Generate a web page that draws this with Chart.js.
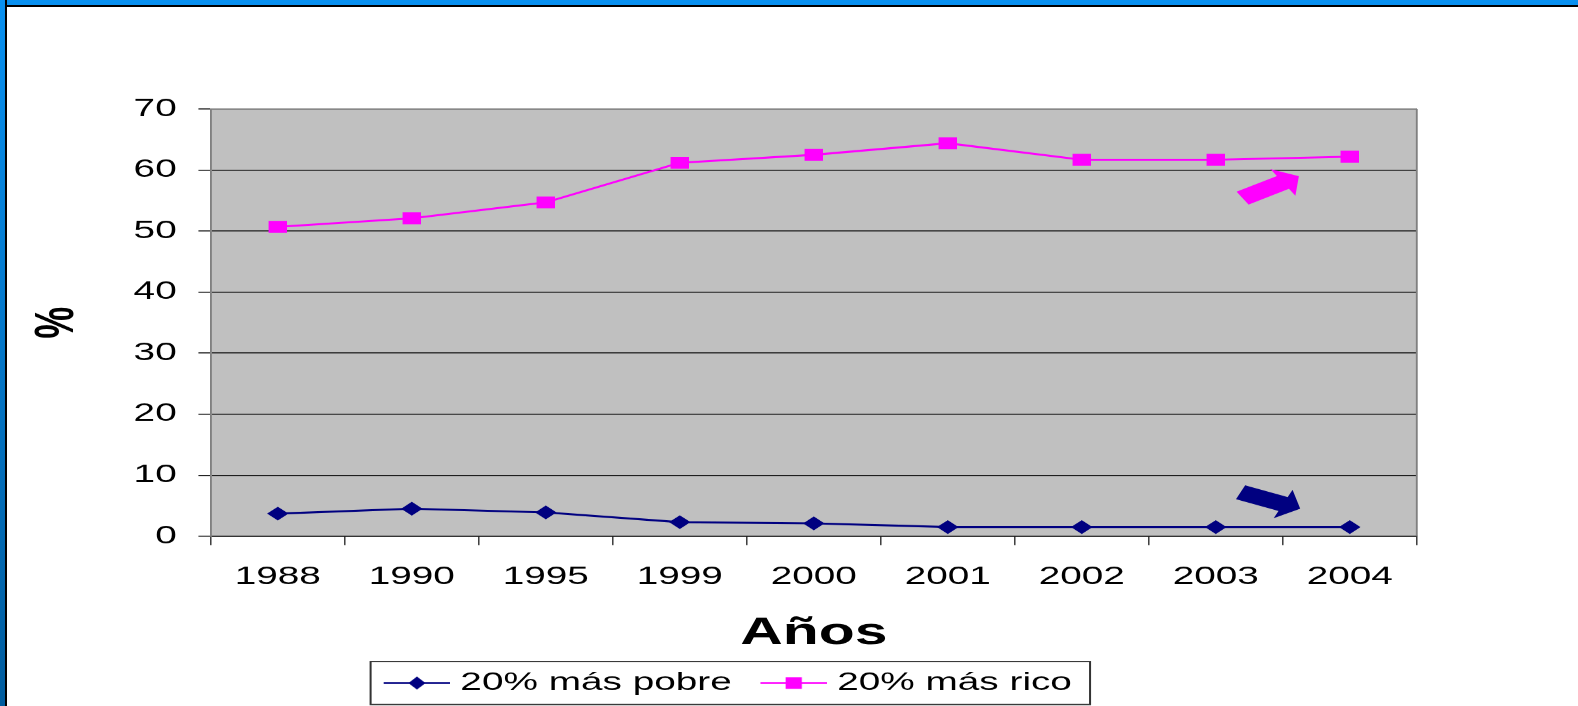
<!DOCTYPE html>
<html>
<head>
<meta charset="utf-8">
<script src="https://cdn.jsdelivr.net/npm/chart.js@4.4.1/dist/chart.umd.min.js"></script>
<style>
  html, body { margin:0; padding:0; background:#ffffff; width:1578px; height:706px; overflow:hidden; }
  #wrap { position:absolute; left:0; top:0; width:1018px; height:706px; transform-origin:0 0; }
  #frameTop { position:absolute; left:0; top:0; width:1578px; height:5px; background:#0890f0; border-bottom:2px solid #000; z-index:5; }
  #frameLeft { position:absolute; left:0; top:0; width:5px; height:706px; background:linear-gradient(#0890f0, #005c9e); border-right:2px solid #000; z-index:5; }
</style>
</head>
<body>
<div id="wrap"><canvas id="c" width="1018" height="706"></canvas></div>
<div id="frameTop"></div>
<div id="frameLeft"></div>
<script>
// ---- data ----
const categories = ['1988','1990','1995','1999','2000','2001','2002','2003','2004'];
const poorest20 = [3.7, 4.5, 3.9, 2.3, 2.1, 1.5, 1.5, 1.5, 1.5];
const richest20 = [50.7, 52.1, 54.7, 61.2, 62.5, 64.4, 61.7, 61.7, 62.2];
const seriesLabels = ['20% más pobre', '20% más rico'];
const yMin = 0, yMax = 70, yStep = 10;
const xTitle = 'Años';
const yTitle = '%';
// trend arrows in data space: [categoryIndex, value]
const trendArrows = [
  { from: [7.20, 55.4], to: [7.62, 59.0], color: '#ff00ff' },
  { from: [7.185, 7.2], to: [7.63, 4.5], color: '#000080' }
];

// horizontal stretch of the original picture
const STRETCH = 1578 / 1018;
document.getElementById('wrap').style.transform = 'scaleX(' + STRETCH + ')';

const FONT = "'Liberation Sans', Arial, sans-serif";
const LEG_SYM_W = 43;   // visible legend symbol length
const LEG_PADL = 6;     // transparent left margin in the legend image
const LEG_BOX = LEG_SYM_W - LEG_PADL; // Chart.js box width

function legendImage(color, style, r) {
  const k = 4, w = LEG_SYM_W + LEG_PADL, h = 16;
  const cv = document.createElement('canvas');
  cv.width = w * k; cv.height = h * k;
  const ctx = cv.getContext('2d');
  ctx.scale(k, k);
  const x0 = LEG_PADL, cx = x0 + LEG_SYM_W / 2;
  ctx.strokeStyle = color; ctx.lineWidth = 1.8;
  ctx.beginPath(); ctx.moveTo(x0, h/2); ctx.lineTo(w, h/2); ctx.stroke();
  ctx.fillStyle = color;
  ctx.beginPath();
  if (style === 'rectRot') {
    ctx.moveTo(cx, h/2 - r); ctx.lineTo(cx + r*0.85, h/2); ctx.lineTo(cx, h/2 + r); ctx.lineTo(cx - r*0.85, h/2);
  } else {
    ctx.rect(cx - r*0.9, h/2 - r, 2*r*0.9, 2*r);
  }
  ctx.closePath(); ctx.fill();
  const img = new Image();
  img.src = cv.toDataURL();
  img.width = w; img.height = h;
  return img;
}

const plotBg = {
  id: 'plotBg',
  beforeDraw(chart) {
    const a = chart.chartArea, ctx = chart.ctx;
    ctx.save(); ctx.fillStyle = '#c0c0c0';
    ctx.fillRect(a.left, a.top, a.right - a.left, a.bottom - a.top);
    ctx.restore();
  },
  beforeDatasetsDraw(chart) {
    const a = chart.chartArea, ctx = chart.ctx;
    ctx.save(); ctx.strokeStyle = '#808080'; ctx.lineWidth = 1.2;
    ctx.beginPath();
    ctx.moveTo(a.left, a.top); ctx.lineTo(a.right, a.top);
    ctx.moveTo(a.right, a.top); ctx.lineTo(a.right, a.bottom);
    ctx.stroke();
    ctx.restore();
  }
};

const arrows = {
  id: 'arrows',
  afterDatasetsDraw(chart) {
    const xs = chart.scales.x, ys = chart.scales.y, ctx = chart.ctx;
    trendArrows.forEach(ar => {
      const x0 = xs.getPixelForValue(ar.from[0]), y0 = ys.getPixelForValue(ar.from[1]);
      const x1 = xs.getPixelForValue(ar.to[0]), y1 = ys.getPixelForValue(ar.to[1]);
      const dx = x1 - x0, dy = y1 - y0, len = Math.hypot(dx, dy);
      const ux = dx/len, uy = dy/len, nx = -uy, ny = ux;
      const sh = 7.5, hh = 15.5, hl = 12;
      const bx = x1 - ux*hl, by = y1 - uy*hl;
      ctx.save(); ctx.fillStyle = ar.color;
      ctx.beginPath();
      ctx.moveTo(x0 + nx*sh, y0 + ny*sh);
      ctx.lineTo(bx + nx*sh, by + ny*sh);
      ctx.lineTo(bx + nx*hh, by + ny*hh);
      ctx.lineTo(x1, y1);
      ctx.lineTo(bx - nx*hh, by - ny*hh);
      ctx.lineTo(bx - nx*sh, by - ny*sh);
      ctx.lineTo(x0 - nx*sh, y0 - ny*sh);
      ctx.closePath(); ctx.fill();
      ctx.restore();
    });
  }
};

const legendBox = {
  id: 'legendBox',
  afterDraw(chart) {
    const lg = chart.legend;
    if (!lg || !lg.legendHitBoxes || !lg.legendHitBoxes.length) return;
    const hb = lg.legendHitBoxes;
    let l = Infinity, r = -Infinity, cy = 0;
    hb.forEach(b => { l = Math.min(l, b.left); r = Math.max(r, b.left + b.width); cy += b.top + b.height/2; });
    cy /= hb.length;
    const ctx = chart.ctx;
    ctx.save(); ctx.strokeStyle = '#333'; ctx.lineWidth = 1.3;
    const left = l - 8.4, right = r + 11.7;
    ctx.strokeRect(left, cy - 21.5, right - left, 43);
    ctx.restore();
  }
};

function build() {
  const imgs = [legendImage('#000080', 'rectRot', 6.5), legendImage('#ff00ff', 'rect', 5.8)];
  let n = 0;
  const go = () => { if (++n === imgs.length) make(imgs); };
  imgs.forEach(im => { if (im.complete) go(); else im.onload = go; });
}

function make(imgs) {
  new Chart(document.getElementById('c'), {
    type: 'line',
    data: {
      labels: categories,
      datasets: [
        { label: seriesLabels[0], data: poorest20, borderColor: '#000080', backgroundColor: '#000080',
          borderWidth: 2, pointStyle: 'rectRot', pointRadius: 5.5, pointHoverRadius: 5.5, tension: 0 },
        { label: seriesLabels[1], data: richest20, borderColor: '#ff00ff', backgroundColor: '#ff00ff',
          borderWidth: 2, pointStyle: 'rect', pointRadius: 7, pointHoverRadius: 7, tension: 0 }
      ]
    },
    options: {
      responsive: false,
      animation: false,
      devicePixelRatio: STRETCH,
      layout: { padding: { left: 25, right: 104, top: 109, bottom: 0.7 } },
      plugins: {
        tooltip: { enabled: false },
        legend: {
          position: 'bottom',
          labels: {
            usePointStyle: true,
            pointStyleWidth: LEG_BOX,
            padding: 18.5,
            color: '#000',
            font: { family: FONT, size: 25 },
            generateLabels(chart) {
              return chart.data.datasets.map((ds, i) => ({
                text: ds.label, pointStyle: imgs[i], fillStyle: ds.borderColor,
                strokeStyle: ds.borderColor, lineWidth: 0, hidden: false, datasetIndex: i, fontColor: '#000'
              }));
            }
          }
        }
      },
      scales: {
        x: {
          offset: true,
          grid: { offset: true, drawOnChartArea: false, drawTicks: true, tickLength: 9, color: '#404040' },
          border: { color: '#000', width: 1 },
          ticks: { color: '#000', font: { family: FONT, size: 25 }, padding: 16.8, maxRotation: 0, autoSkip: false },
          title: { display: true, text: xTitle, color: '#000', font: { family: FONT, size: 38, weight: 'bold', lineHeight: 1 },
                   padding: { top: 5.9, bottom: -0.7 } }
        },
        y: {
          min: yMin, max: yMax,
          afterFit(scale) { scale.width = 111; },
          grid: { color: '#000', lineWidth: 1, tickLength: 8, drawTicks: true },
          border: { color: '#808080', width: 1.2 },
          ticks: { stepSize: yStep, color: '#000', font: { family: FONT, size: 25 }, padding: 14 },
          title: { display: true, text: yTitle, color: '#000', font: { family: FONT, size: 36, weight: 'bold', lineHeight: 0.68 },
                   padding: 0 }
        }
      }
    },
    plugins: [plotBg, arrows, legendBox]
  });
}
build();
</script>
</body>
</html>
